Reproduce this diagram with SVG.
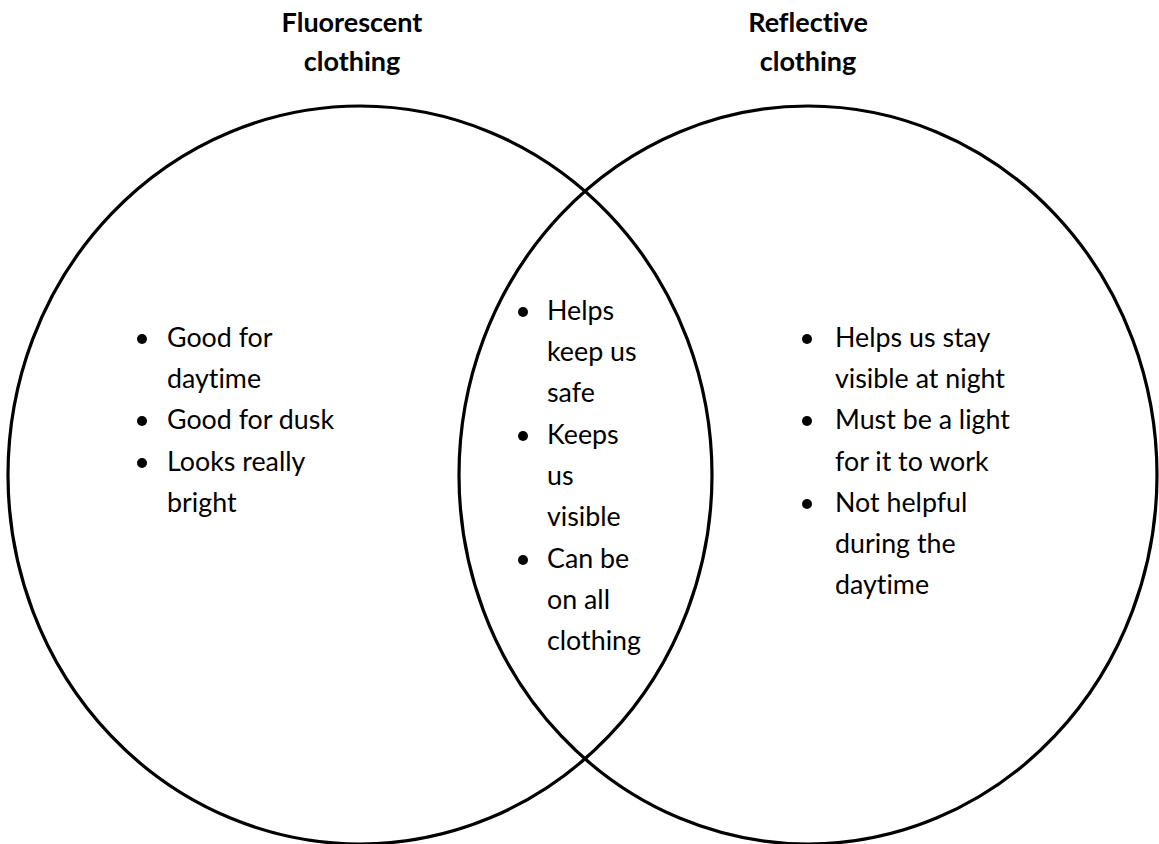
<svg xmlns="http://www.w3.org/2000/svg" width="1159" height="844" viewBox="0 0 1159 844">
<style>
.c{fill:none;stroke:#000;stroke-width:3.2}
.t{font-family:Lato,"Liberation Sans",sans-serif;font-size:26.8px;fill:#000;font-variant-ligatures:none}
.h{font-family:Lato,"Liberation Sans",sans-serif;font-size:27px;font-weight:bold;fill:#000;text-anchor:middle;font-variant-ligatures:none}
.b{fill:#000}
</style>
<rect width="1159" height="844" fill="#fff"/>
<g id="left-set">
<ellipse class="c" cx="360" cy="475" rx="352" ry="369"/>
<text class="h" x="352" y="32">Fluorescent</text>
<text class="h" x="352" y="71">clothing</text>
<circle class="b" cx="142" cy="339" r="5"/>
<circle class="b" cx="142" cy="421" r="5"/>
<circle class="b" cx="142" cy="463" r="5"/>
<text class="t" x="167" y="347">Good for</text>
<text class="t" x="167" y="388">daytime</text>
<text class="t" x="167" y="429">Good for dusk</text>
<text class="t" x="167" y="471">Looks really</text>
<text class="t" x="167" y="512">bright</text>
</g>
<g id="right-set">
<ellipse class="c" cx="808" cy="475" rx="349" ry="369"/>
<text class="h" x="808" y="32">Reflective</text>
<text class="h" x="808" y="71">clothing</text>
<circle class="b" cx="807" cy="339" r="5"/>
<circle class="b" cx="807" cy="421" r="5"/>
<circle class="b" cx="807" cy="504" r="5"/>
<text class="t" x="835" y="347">Helps us stay</text>
<text class="t" x="835" y="388">visible at night</text>
<text class="t" x="835" y="429">Must be a light</text>
<text class="t" x="835" y="471">for it to work</text>
<text class="t" x="835" y="512">Not helpful</text>
<text class="t" x="835" y="553">during the</text>
<text class="t" x="835" y="594">daytime</text>
</g>
<g id="intersection">
<circle class="b" cx="523" cy="312" r="5"/>
<circle class="b" cx="523" cy="436" r="5"/>
<circle class="b" cx="523" cy="560" r="5"/>
<text class="t" x="547" y="320">Helps</text>
<text class="t" x="547" y="361">keep us</text>
<text class="t" x="547" y="402">safe</text>
<text class="t" x="547" y="444">Keeps</text>
<text class="t" x="547" y="485">us</text>
<text class="t" x="547" y="526">visible</text>
<text class="t" x="547" y="568">Can be</text>
<text class="t" x="547" y="609">on all</text>
<text class="t" x="547" y="650">clothing</text>
</g>
<g id="connectors"/>
</svg>
